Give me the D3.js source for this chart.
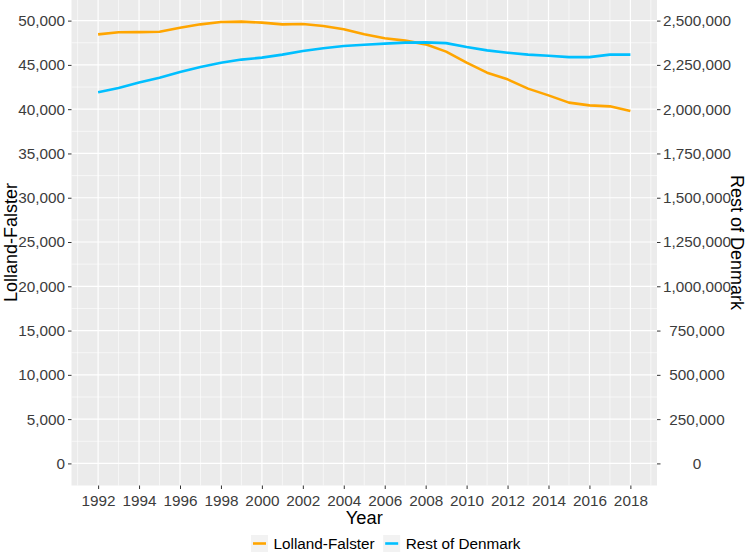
<!DOCTYPE html>
<html>
<head>
<meta charset="utf-8">
<script src="https://cdn.jsdelivr.net/npm/d3@7"></script>
<style>
  body { margin: 0; background: #fff; }
  text { font-family: "Liberation Sans", Arial, sans-serif; }
</style>
</head>
<body>
<div id="canvas"></div>
<script>
const years = d3.range(1992, 2019);
// Lolland-Falster population (left axis)
const lollandFalster = [48450, 48680, 48700, 48750, 49200, 49580, 49840, 49890, 49770,
  49580, 49620, 49390, 49020, 48450, 48000, 47740, 47320, 46500, 45250, 44120, 43370,
  42320, 41560, 40740, 40430, 40320, 39790];
// Rest of Denmark population (right axis)
const restOfDenmark = [2095000, 2119000, 2150000, 2178000, 2210000, 2238000, 2262000,
  2280000, 2291000, 2308000, 2328000, 2344000, 2357000, 2364000, 2370000, 2376000,
  2377000, 2373000, 2351000, 2332000, 2319000, 2308000, 2302000, 2294000, 2294000,
  2308000, 2308000];
const xTicks = d3.range(1992, 2019, 2);
const leftTicks = d3.range(0, 50001, 5000);
const rightTicks = d3.range(0, 2500001, 250000);
const seriesNames = ["Lolland-Falster", "Rest of Denmark"];
const colors = ["#FFA500", "#00BFFF"];
const ratio = 50;

const w = 749, h = 552;
const panel = { left: 71.5, right: 657, top: -0.5, bottom: 485.5 };

const svg = d3.select("#canvas").append("svg")
  .attr("width", w).attr("height", h);

const xExt = d3.extent(years);
const xPad = (xExt[1] - xExt[0]) * 0.05;
const x = d3.scaleLinear()
  .domain([xExt[0] - xPad, xExt[1] + xPad])
  .range([panel.left, panel.right]);

const yMax = Math.max(d3.max(lollandFalster), d3.max(restOfDenmark) / ratio);
const yPad = yMax * 0.05;
const y = d3.scaleLinear()
  .domain([-yPad, yMax + yPad])
  .range([panel.bottom, panel.top]);
const y2 = d3.scaleLinear()
  .domain([-yPad * ratio, (yMax + yPad) * ratio])
  .range([panel.bottom, panel.top]);

// panel background
svg.append("rect")
  .attr("x", panel.left).attr("y", panel.top)
  .attr("width", panel.right - panel.left)
  .attr("height", panel.bottom - panel.top)
  .attr("fill", "#EBEBEB");

const grid = svg.append("g");
// minor grid
const minorX = [1991].concat(xTicks.map(t => t + 1));
minorX.forEach(t => {
  grid.append("line").attr("x1", x(t)).attr("x2", x(t))
    .attr("y1", panel.top).attr("y2", panel.bottom)
    .attr("stroke", "#fff").attr("stroke-width", 0.6);
});
leftTicks.slice(0, -1).forEach(t => {
  grid.append("line").attr("y1", y(t + 2500)).attr("y2", y(t + 2500))
    .attr("x1", panel.left).attr("x2", panel.right)
    .attr("stroke", "#fff").attr("stroke-width", 0.6);
});
// major grid
xTicks.forEach(t => {
  grid.append("line").attr("x1", x(t)).attr("x2", x(t))
    .attr("y1", panel.top).attr("y2", panel.bottom)
    .attr("stroke", "#fff").attr("stroke-width", 1.2);
});
leftTicks.forEach(t => {
  grid.append("line").attr("y1", y(t)).attr("y2", y(t))
    .attr("x1", panel.left).attr("x2", panel.right)
    .attr("stroke", "#fff").attr("stroke-width", 1.2);
});

// axes
const fmt = d3.format(",");
const xAxis = svg.append("g")
  .attr("transform", "translate(0," + panel.bottom + ")")
  .call(d3.axisBottom(x).tickValues(xTicks).tickFormat(d3.format("d")).tickSize(3.5).tickPadding(3));
const yAxis = svg.append("g")
  .attr("transform", "translate(" + panel.left + ",0)")
  .call(d3.axisLeft(y).tickValues(leftTicks).tickFormat(fmt).tickSize(3.5).tickPadding(3));
const y2Axis = svg.append("g")
  .attr("transform", "translate(" + panel.right + ",0)")
  .call(d3.axisRight(y2).tickValues(rightTicks).tickFormat(fmt).tickSize(3.5).tickPadding(3));

[xAxis, yAxis, y2Axis].forEach(a => {
  a.select(".domain").remove();
  a.selectAll(".tick line").attr("stroke", "#333").attr("stroke-width", 1);
  a.selectAll(".tick text").attr("fill", "#3C3C3C")
    .style("font-size", "15.3px")
    .style("font-family", "'Liberation Sans', Arial, sans-serif");
});
xAxis.selectAll(".tick text").attr("dy", "0.9em");
// right labels centred in their column
y2Axis.selectAll(".tick text").attr("text-anchor", "middle").attr("x", 40);

// lines
const line = d3.line().curve(d3.curveLinear);
svg.append("path")
  .datum(years.map((yr, i) => [x(yr), y(lollandFalster[i])]))
  .attr("d", line).attr("fill", "none")
  .attr("stroke", colors[0]).attr("stroke-width", 2.6)
  .attr("stroke-linejoin", "round");
svg.append("path")
  .datum(years.map((yr, i) => [x(yr), y2(restOfDenmark[i])]))
  .attr("d", line).attr("fill", "none")
  .attr("stroke", colors[1]).attr("stroke-width", 2.6)
  .attr("stroke-linejoin", "round");

// axis titles
svg.append("text")
  .attr("x", (panel.left + panel.right) / 2).attr("y", 524)
  .attr("text-anchor", "middle").style("font-size", "18.3px")
  .text("Year");
svg.append("text")
  .attr("transform", "translate(16.5," + (panel.top + panel.bottom) / 2 + ") rotate(-90)")
  .attr("text-anchor", "middle").style("font-size", "18px")
  .text(seriesNames[0]);
svg.append("text")
  .attr("transform", "translate(731," + (panel.top + panel.bottom) / 2 + ") rotate(90)")
  .attr("text-anchor", "middle").style("font-size", "18px")
  .text(seriesNames[1]);

// legend
const legend = svg.append("g");
let lx = 251;
seriesNames.forEach((name, i) => {
  const g = legend.append("g").attr("transform", "translate(" + lx + ",535)");
  g.append("rect").attr("width", 17).attr("height", 17).attr("fill", "#F2F2F2");
  g.append("line").attr("x1", 2).attr("x2", 15).attr("y1", 8.5).attr("y2", 8.5)
    .attr("stroke", colors[i]).attr("stroke-width", 2.6);
  const t = g.append("text").attr("x", 22.5).attr("y", 14)
    .style("font-size", "15.3px").text(name);
  lx += 22.5 + t.node().getComputedTextLength() + 8.5;
});
</script>
</body>
</html>
